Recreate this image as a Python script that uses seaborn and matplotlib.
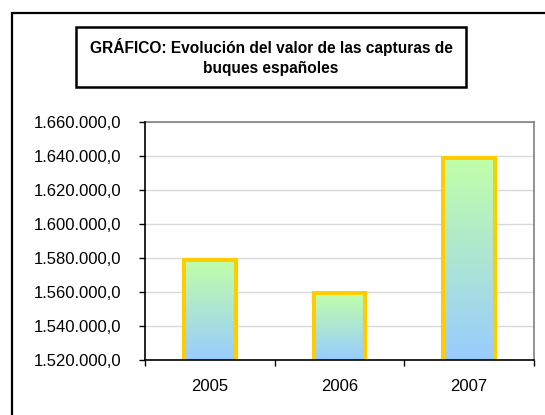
import matplotlib
matplotlib.use("Agg")
import matplotlib.pyplot as plt
import seaborn as sns
import numpy as np
import pandas as pd
from matplotlib.patches import Rectangle
from matplotlib.colors import LinearSegmentedColormap
from matplotlib.ticker import FixedLocator, FuncFormatter

years = ["2005", "2006", "2007"]
valores = [1578800, 1559400, 1638800]
title_text = "GRÁFICO: Evolución del valor de las capturas de\nbuques españoles"
y_ticks = [1520000, 1540000, 1560000, 1580000, 1600000, 1620000, 1640000, 1660000]

sns.set_theme(style="white")
plt.rcParams['font.family'] = ['Liberation Sans', 'DejaVu Sans']
plt.rcParams['text.color'] = 'black'

df = pd.DataFrame({"anio": years, "valor": valores})

fig = plt.figure(figsize=(5.45, 4.15), dpi=100)
fig.patch.set_facecolor("white")
ax = fig.add_axes([145/545, 1-360/415, (534-145)/545, (360-122)/415])

sns.barplot(data=df, x="anio", y="valor", ax=ax, width=0.40,
            facecolor="none", edgecolor="#FFCC00", linewidth=2.9, zorder=3)

ymin, ymax = y_ticks[0], y_ticks[-1]
ax.set_ylim(ymin, ymax)
ax.set_xlim(-0.5, len(years) - 0.5)

# gradient fill inside each bar (visible part from axis bottom to bar top)
cmap = LinearSegmentedColormap.from_list("gb", ["#99CCFF", "#C0FFA8"])
grad = np.linspace(0, 1, 256).reshape(-1, 1)
for p in list(ax.patches):
    x0, w = p.get_x(), p.get_width()
    top = p.get_y() + p.get_height()
    clip = Rectangle((x0, ymin), w, top - ymin, transform=ax.transData)
    im = ax.imshow(grad, cmap=cmap, origin="lower", aspect="auto",
                   extent=[x0, x0 + w, ymin, top], zorder=2)
    im.set_clip_path(clip)
ax.set_xlim(-0.5, len(years) - 0.5)
ax.set_ylim(ymin, ymax)

ax.yaxis.set_major_locator(FixedLocator(y_ticks))
ax.yaxis.set_major_formatter(FuncFormatter(
    lambda v, pos: f"{v:,.1f}".replace(",", "X").replace(".", ",").replace("X", ".")))
ax.set_xlabel("")
ax.set_ylabel("")
ax.grid(axis="y", color="#D9D9D9", linewidth=1.0, zorder=0)
ax.set_axisbelow(True)

# x ticks at category boundaries
ax.set_xticks(range(len(years)))
ax.set_xticklabels(years)
ax.set_xticks([-0.5, 0.5, 1.5, 2.5], minor=True)
ax.tick_params(axis="x", which="major", length=0, pad=14, labelsize=12, labelcolor="black")
ax.tick_params(axis="x", which="minor", direction="out", length=4, width=1, color="black", bottom=True)
ax.tick_params(axis="y", which="major", direction="out", length=4, width=1, color="black",
               pad=13, labelsize=12, left=True, labelcolor="black")

for s in ["top", "right"]:
    ax.spines[s].set_visible(True)
    ax.spines[s].set_color("#808080")
    ax.spines[s].set_linewidth(1.2)
for s in ["left", "bottom"]:
    ax.spines[s].set_color("black")
    ax.spines[s].set_linewidth(1.2)
    ax.spines[s].set_zorder(5)

# outer chart frame
fig.patches.append(Rectangle((12/545, -0.2), 1.2, 0.2 + (1 - 13/415),
                             transform=fig.transFigure, fill=False,
                             edgecolor="black", linewidth=1.6))

# title box
bx0, bx1 = 76/545, 466/545
by0, by1 = 1 - 87/415, 1 - 27/415
fig.patches.append(Rectangle((bx0, by0), bx1 - bx0, by1 - by0, transform=fig.transFigure,
                             fill=False, edgecolor="black", linewidth=1.8))
fig.text((bx0 + bx1) / 2, (by0 + by1) / 2, title_text, ha="center", va="center",
         fontsize=11.2, fontweight="bold", linespacing=1.45, color="black")

fig.savefig("out.png", dpi=100)
